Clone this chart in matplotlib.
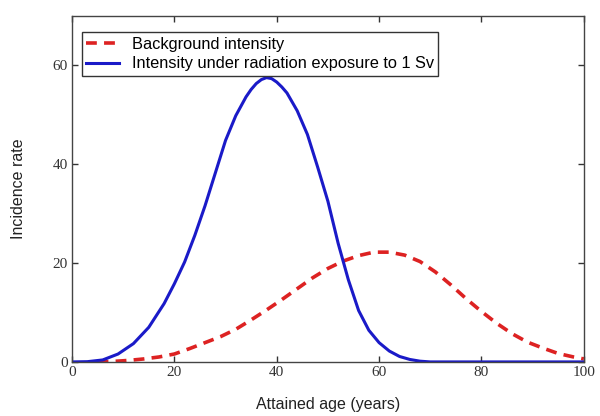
import matplotlib
matplotlib.use('Agg')
import matplotlib.pyplot as plt

# blue curve: intensity under radiation exposure to 1 Sv
age_exposed = [0, 3, 6, 9, 12, 15, 18, 20, 22, 24, 26, 28, 30, 32, 34, 35, 36, 37,
               38, 39, 40, 41, 42, 44, 46, 48, 50, 52, 54, 56, 58, 60, 62, 64, 66,
               68, 70, 100]
rate_exposed = [0.0, 0.05, 0.4, 1.6, 3.7, 7.0, 11.8, 15.8, 20.2, 25.6, 31.6, 38.2,
                44.8, 49.8, 53.6, 55.1, 56.3, 57.1, 57.5, 57.3, 56.6, 55.6, 54.4,
                50.8, 46.0, 39.4, 32.5, 24.0, 16.6, 10.4, 6.4, 3.9, 2.2, 1.1, 0.5,
                0.15, 0.0, 0.0]

# red dashed curve: background intensity
age_bg = [5, 8, 11, 14, 17, 20, 23, 26, 29, 32, 35, 38, 41, 44, 47, 50, 53, 56,
          59, 62, 65, 68, 71, 74, 77, 80, 83, 86, 89, 92, 95, 98, 100]
rate_bg = [0.0, 0.1, 0.3, 0.6, 1.0, 1.6, 2.7, 3.9, 5.1, 6.6, 8.5, 10.5, 12.6, 14.8,
           17.0, 18.9, 20.4, 21.5, 22.2, 22.2, 21.6, 20.3, 18.2, 15.6, 12.8, 10.2,
           7.8, 5.7, 4.0, 2.8, 1.7, 1.0, 0.6]

xticks = [0, 20, 40, 60, 80, 100]
yticks = [0, 20, 40, 60]

fig = plt.figure(figsize=(6, 4.16), dpi=100)
ax = fig.add_axes([0.12, 0.13, 0.853, 0.832])

ax.plot(age_bg, rate_bg, linestyle=(0, (3, 2)), color='#dd2222', linewidth=2.6,
        label='Background intensity')
ax.plot(age_exposed, rate_exposed, color='#1a1ac8', linewidth=2.2,
        label='Intensity under radiation exposure to 1 Sv')

ax.set_xlim(0, 100)
ax.set_ylim(0, 70)
ax.set_xticks(xticks)
ax.set_yticks(yticks)
ax.tick_params(direction='in', top=True, right=True, length=4, width=1,
               colors='#333333', pad=3)
for lab in ax.get_xticklabels() + ax.get_yticklabels():
    lab.set_family('Liberation Serif')
    lab.set_fontsize(11)
    lab.set_color('#333333')
for s in ax.spines.values():
    s.set_color('#444444')
    s.set_linewidth(1.0)

ax.set_xlabel('Attained age (years)', family='Liberation Sans', fontsize=11.5,
              color='#222222', labelpad=13)
ax.set_ylabel('Incidence rate', family='Liberation Sans', fontsize=11.5,
              color='#222222', labelpad=19)

leg = ax.legend(loc='upper left', bbox_to_anchor=(0.02, 0.952),
                prop={'family': 'Liberation Sans', 'size': 11.8},
                fancybox=False, framealpha=1, edgecolor='#333333',
                handlelength=2.0, handletextpad=0.8, borderpad=0.25,
                labelspacing=0.3, borderaxespad=0.0)
leg.get_frame().set_linewidth(1.0)

fig.savefig('out.png', dpi=100)
